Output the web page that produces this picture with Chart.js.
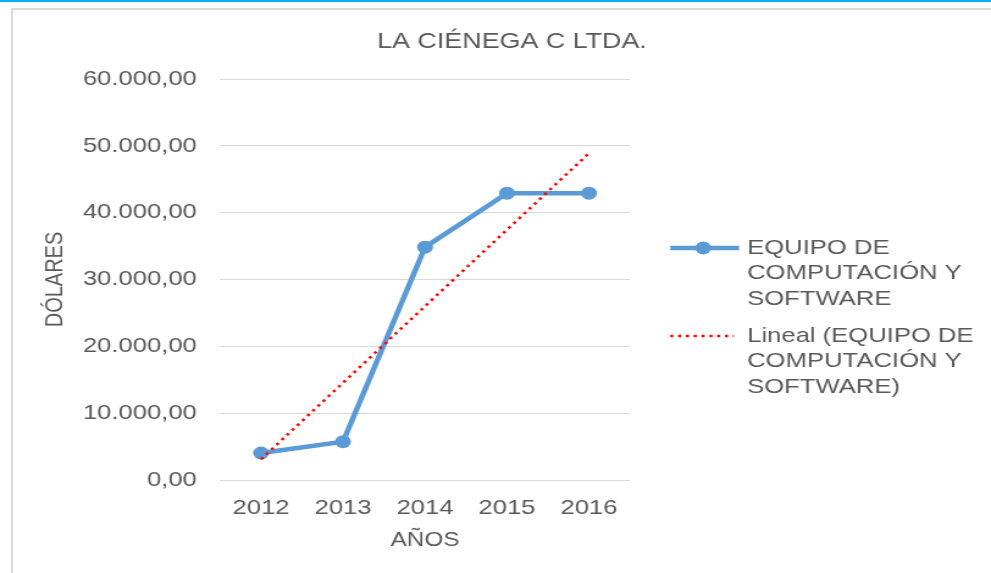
<!DOCTYPE html>
<html>
<head>
<meta charset="utf-8">
<script src="https://cdn.jsdelivr.net/npm/chart.js@4/dist/chart.umd.min.js"></script>
<style>
  html, body { margin: 0; padding: 0; background: #fff; }
  #wrap { position: relative; width: 991px; height: 573px; overflow: hidden; background: #fff; }
  #topline { position: absolute; left: 0; top: 0; width: 991px; height: 2px; background: #00b0f0; }
  #frame { position: absolute; left: 11px; top: 8px; width: 2000px; height: 2000px;
           border-left: 2px solid #d9d9d9; border-top: 2px solid #d9d9d9; }
  /* the original picture is stretched sideways, so the canvas is too */
  #chart { position: absolute; left: 0; top: 0; transform: scaleX(1.2204); transform-origin: 0 0; }
</style>
</head>
<body>
<div id="wrap">
  <div id="topline"></div>
  <div id="frame"></div>
  <canvas id="chart" width="812" height="573"></canvas>
</div>
<script>
// ---------- datos ----------
const years = ['2012', '2013', '2014', '2015', '2016'];
const equipoValues = [4040, 5730, 34840, 42920, 42920];
const trendYears = ['2012', '2016'];
const trendValues = [3100, 48900];

const seriesLines = ['EQUIPO DE', 'COMPUTACIÓN Y', 'SOFTWARE'];
const trendLines = ['Lineal (EQUIPO DE', 'COMPUTACIÓN Y', 'SOFTWARE)'];

const TEXT = '#595959';
const BLUE = '#5b9bd5';
const RED = '#ff0000';
const FONT = '"Liberation Sans", Arial, sans-serif';

function fmt(v) {
    const s = Math.round(v).toString().replace(/\B(?=(\d{3})+(?!\d))/g, '.');
    return s + ',00';
}

// leyenda a la derecha, en varias líneas
const sideLegend = {
    id: 'sideLegend',
    afterDraw(chart) {
        const ctx = chart.ctx;
        const x0 = chart.chartArea.right + 33;
        const tops = [248, 336];
        ctx.save();
        ctx.font = '21px ' + FONT;
        ctx.fillStyle = TEXT;
        ctx.textBaseline = 'middle';
        ctx.textAlign = 'left';
        chart.data.datasets.forEach((ds, i) => {
            const y = tops[i];
            ctx.strokeStyle = ds.borderColor;
            ctx.lineWidth = ds.borderWidth;
            ctx.setLineDash(ds.borderDash || []);
            ctx.lineCap = 'butt';
            ctx.beginPath();
            ctx.moveTo(x0, y);
            ctx.lineTo(x0 + (ds.borderDash ? 52 : 56.5), y);
            ctx.stroke();
            ctx.setLineDash([]);
            if (ds.pointRadius > 0) {
                ctx.fillStyle = ds.pointBackgroundColor;
                ctx.beginPath();
                ctx.arc(x0 + 27, y, ds.pointRadius, 0, Math.PI * 2);
                ctx.fill();
            }
            ctx.fillStyle = TEXT;
            ds.legendLines.forEach((t, k) => ctx.fillText(t, x0 + 63, y + k * 25.5));
        });
        ctx.restore();
    }
};

new Chart(document.getElementById('chart'), {
    type: 'line',
    data: {
        labels: years,
        datasets: [{
            label: seriesLines.join(' '),
            legendLines: seriesLines,
            data: equipoValues,
            borderColor: BLUE,
            backgroundColor: BLUE,
            pointBackgroundColor: BLUE,
            pointBorderWidth: 0,
            borderWidth: 4.5,
            pointRadius: 6.5,
            tension: 0,
            order: 1
        }, {
            label: trendLines.join(' '),
            legendLines: trendLines,
            data: trendYears.map((y, i) => ({ x: y, y: trendValues[i] })),
            borderColor: RED,
            borderWidth: 2.5,
            borderDash: [2.5, 3.9],
            borderCapStyle: 'butt',
            pointRadius: 0,
            order: 0
        }]
    },
    options: {
        responsive: false,
        animation: false,
        layout: { padding: { left: 27, right: 0, top: 0, bottom: 0 } },
        plugins: {
            legend: { display: false },
            tooltip: { enabled: false },
            title: {
                display: true,
                text: 'LA CIÉNEGA C LTDA.',
                color: TEXT,
                font: { family: FONT, size: 22, weight: 'normal' },
                padding: { top: 28.3, bottom: 24.3 }
            }
        },
        scales: {
            x: {
                type: 'category',
                offset: true,
                grid: { display: false },
                border: { display: false },
                ticks: { color: TEXT, font: { family: FONT, size: 21 }, padding: 8 },
                title: {
                    display: true, text: 'AÑOS', color: TEXT,
                    font: { family: FONT, size: 20 },
                    padding: { top: 0, bottom: 21 }
                },
                afterFit(s) { s.height = 93; }
            },
            y: {
                min: 0,
                max: 60000,
                grid: { color: '#d9d9d9', lineWidth: 1, drawTicks: false },
                border: { display: false },
                ticks: {
                    stepSize: 10000, color: TEXT, padding: 19,
                    font: { family: FONT, size: 21 },
                    callback: v => fmt(v)
                },
                title: {
                    display: true, text: 'DÓLARES', color: TEXT,
                    font: { family: FONT, size: 20 },
                    padding: { top: 6.5, bottom: 0 }
                },
                afterFit(s) { s.width = 153.3; }
            },
            yRight: {
                type: 'linear',
                position: 'right',
                grid: { display: false },
                border: { display: false },
                ticks: { display: false },
                afterFit(s) { s.width = 295.8; }
            }
        }
    },
    plugins: [sideLegend]
});
</script>
</body>
</html>
